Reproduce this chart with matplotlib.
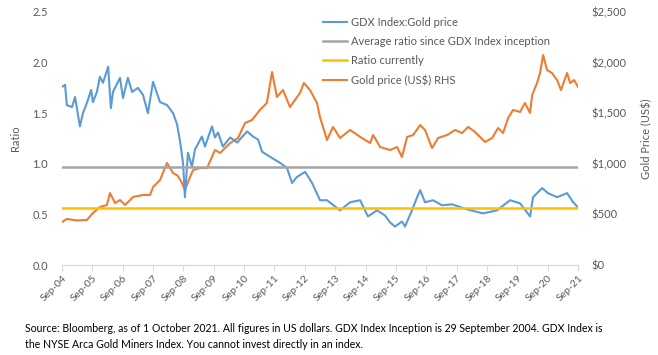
import matplotlib
matplotlib.use("Agg")
import matplotlib.pyplot as plt
from matplotlib.lines import Line2D

# ---- data ----
ratio_years = [2004.75, 2004.85, 2004.91, 2005.08, 2005.18, 2005.24, 2005.34, 2005.44, 2005.57, 2005.71,
               2005.77, 2005.90, 2006.00, 2006.10, 2006.27, 2006.36, 2006.43, 2006.66, 2006.76, 2006.92,
               2007.06, 2007.25, 2007.42, 2007.58, 2007.75, 2007.98, 2008.21, 2008.41, 2008.54, 2008.64,
               2008.74, 2008.80, 2008.90, 2009.03, 2009.13, 2009.36, 2009.46, 2009.69, 2009.79, 2009.89,
               2010.05, 2010.29, 2010.52, 2010.85, 2011.04, 2011.21, 2011.34, 2011.60, 2011.93, 2012.16,
               2012.33, 2012.49, 2012.76, 2012.99, 2013.25, 2013.48, 2013.91, 2014.24, 2014.57, 2014.83,
               2015.13, 2015.39, 2015.56, 2015.72, 2015.95, 2016.05, 2016.28, 2016.45, 2016.55, 2016.71,
               2016.97, 2017.27, 2017.60, 2018.09, 2018.62, 2019.08, 2019.51, 2019.84, 2020.17, 2020.27,
               2020.57, 2020.76, 2021.06, 2021.39, 2021.59, 2021.75]
ratio_values = [1.76, 1.78, 1.58, 1.56, 1.66, 1.55, 1.37, 1.50, 1.60, 1.73,
                1.61, 1.71, 1.86, 1.80, 1.96, 1.55, 1.71, 1.85, 1.65, 1.85,
                1.71, 1.75, 1.68, 1.50, 1.81, 1.61, 1.58, 1.50, 1.39, 1.22,
                1.00, 0.67, 1.11, 0.97, 1.14, 1.27, 1.17, 1.37, 1.26, 1.31,
                1.17, 1.26, 1.21, 1.32, 1.27, 1.24, 1.12, 1.07, 1.01, 0.96,
                0.81, 0.87, 0.92, 0.81, 0.64, 0.64, 0.54, 0.62, 0.64, 0.48,
                0.54, 0.49, 0.42, 0.38, 0.43, 0.38, 0.54, 0.67, 0.74, 0.62,
                0.64, 0.59, 0.60, 0.55, 0.51, 0.54, 0.64, 0.61, 0.48, 0.67,
                0.76, 0.71, 0.67, 0.71, 0.62, 0.57]

gold_years = [2004.75, 2004.91, 2005.24, 2005.57, 2005.77, 2006.00, 2006.23, 2006.33, 2006.50, 2006.66,
              2006.83, 2007.09, 2007.42, 2007.65, 2007.75, 2007.98, 2008.21, 2008.41, 2008.57, 2008.70,
              2008.80, 2008.97, 2009.07, 2009.30, 2009.53, 2009.79, 2009.96, 2010.29, 2010.55, 2010.78,
              2011.01, 2011.27, 2011.50, 2011.67, 2011.83, 2012.03, 2012.26, 2012.59, 2012.72, 2012.92,
              2013.15, 2013.25, 2013.48, 2013.68, 2013.91, 2014.24, 2014.63, 2014.90, 2015.00, 2015.23,
              2015.56, 2015.79, 2015.95, 2016.12, 2016.32, 2016.55, 2016.71, 2016.94, 2017.14, 2017.44,
              2017.70, 2017.93, 2018.13, 2018.36, 2018.69, 2018.92, 2019.12, 2019.28, 2019.45, 2019.61,
              2019.84, 2020.00, 2020.17, 2020.24, 2020.40, 2020.50, 2020.60, 2020.73, 2020.89, 2021.06,
              2021.19, 2021.39, 2021.49, 2021.62, 2021.75]
gold_values = [425, 455, 440, 445, 514, 573, 593, 711, 612, 642,
               593, 672, 692, 692, 771, 840, 1008, 909, 880, 810,
               741, 870, 939, 958, 958, 1136, 1107, 1205, 1255, 1403,
               1433, 1532, 1601, 1907, 1660, 1729, 1561, 1700, 1798, 1729,
               1601, 1462, 1235, 1364, 1255, 1334, 1255, 1205, 1285, 1166,
               1136, 1166, 1067, 1265, 1285, 1383, 1334, 1156, 1255, 1285,
               1334, 1304, 1364, 1314, 1215, 1255, 1354, 1304, 1453, 1532,
               1512, 1601, 1502, 1680, 1798, 1897, 2075, 1927, 1897, 1828,
               1729, 1897, 1798, 1828, 1759]

average_ratio = 0.97
current_ratio = 0.56

tick_years = list(range(2004, 2022))
tick_labels = ["Sep-%02d" % (y % 100) for y in tick_years]

left_ticks = [0.0, 0.5, 1.0, 1.5, 2.0, 2.5]
right_ticks = [0, 500, 1000, 1500, 2000, 2500]

# ---- style ----
BLUE = "#5B9BD5"
GRAY = "#A5A5A5"
YELLOW = "#FFC000"
ORANGE = "#ED7D31"
TXT = "#595959"
FONT = ["Lato", "DejaVu Sans"]
plt.rcParams["font.family"] = FONT

fig = plt.figure(figsize=(6.58, 3.55), dpi=100)
ax = fig.add_axes([62 / 658, 1 - 265 / 355, (578 - 62) / 658, (265 - 12) / 355])
ax2 = ax.twinx()
ax.set_zorder(ax2.get_zorder() + 1)
ax.patch.set_visible(False)

x0, x1 = 2004.75, 2021.75
ax2.plot(gold_years, gold_values, color=ORANGE, lw=1.5)
ax.plot(ratio_years, ratio_values, color=BLUE, lw=1.5)
ax.plot([x0, x1], [average_ratio, average_ratio], color=GRAY, lw=1.8)
ax.plot([x0, x1], [current_ratio, current_ratio], color=YELLOW, lw=1.8)

ax.set_xlim(x0, x1)
ax.set_ylim(0, 2.5)
ax2.set_ylim(0, 2500)

ax.set_xticks([y + 0.75 for y in tick_years])
ax.set_xticklabels(tick_labels, rotation=45, ha="right", rotation_mode="anchor",
                   fontsize=7.5, color=TXT)
ax.set_yticks(left_ticks)
ax.set_yticklabels(["%.1f" % v for v in left_ticks], fontsize=8, color=TXT)
ax2.set_yticks(right_ticks)
ax2.set_yticklabels(["${:,}".format(v) for v in right_ticks], fontsize=8, color=TXT)

for a in (ax, ax2):
    for s in ("top", "left", "right"):
        a.spines[s].set_visible(False)
    a.spines["bottom"].set_color("#D9D9D9")
ax.tick_params(axis="y", length=0, pad=10)
ax2.tick_params(axis="y", length=0, pad=10)
ax.tick_params(axis="x", length=4, color="#D9D9D9", pad=2)

ax.set_ylabel("Ratio", fontsize=8, color=TXT, labelpad=8)
ax2.set_ylabel("Gold Price (US$)", fontsize=8, color=TXT, labelpad=10)

handles = [Line2D([], [], color=BLUE, lw=1.5),
           Line2D([], [], color=GRAY, lw=1.8),
           Line2D([], [], color=YELLOW, lw=1.8),
           Line2D([], [], color=ORANGE, lw=1.5)]
labels = ["GDX Index:Gold price", "Average ratio since GDX Index inception",
          "Ratio currently", "Gold price (US$) RHS"]
leg = ax.legend(handles, labels, loc="upper left", bbox_to_anchor=((318 - 62) / 516, 1.0),
                frameon=False, fontsize=8, handlelength=2.2, handletextpad=0.3,
                labelspacing=0.72, borderaxespad=0.05)
for t in leg.get_texts():
    t.set_color(TXT)

fig.text(25 / 658, 1 - 328 / 355,
         "Source: Bloomberg, as of 1 October 2021. All figures in US dollars. GDX Index Inception is 29 September 2004. GDX Index is",
         fontsize=7.6, color="black", va="center")
fig.text(25 / 658, 1 - 344 / 355,
         "the NYSE Arca Gold Miners Index. You cannot invest directly in an index.",
         fontsize=7.6, color="black", va="center")

fig.savefig("out.png", dpi=100)
